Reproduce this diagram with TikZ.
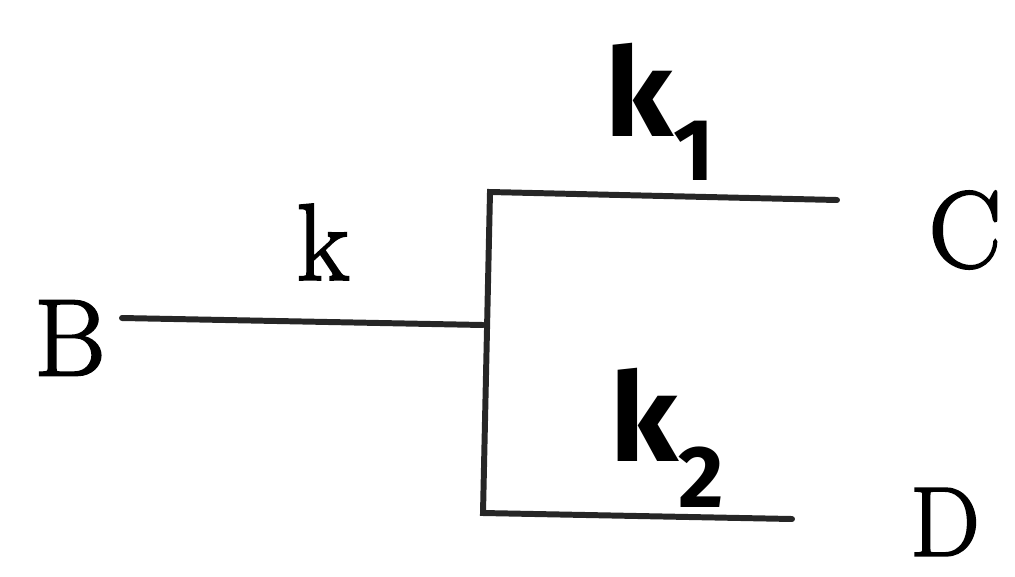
\documentclass[tikz,border=0pt]{standalone}
\usepackage{fontspec}
\newfontfamily\handfont{Fira Sans}
\newfontfamily\thickserif[FakeBold=2]{Latin Modern Roman}
\begin{document}
\begin{tikzpicture}[x=0.02cm,y=-0.02cm,
  wire/.style={line width=3.4pt,color=black!85,line cap=round},
  letter/.style={inner sep=0pt,font=\thickserif\fontsize{62}{62}\selectfont},
  hand/.style={inner sep=0pt,font=\handfont\bfseries\fontsize{70}{70}\selectfont}]
\useasboundingbox (0,0) rectangle (1015,576);
\node[letter] (B) at (70,338) {B};
\node[letter] (C) at (965,230) {C};
\node[letter,font=\thickserif\fontsize{56}{56}\selectfont] (D) at (945,522) {D};
\node[letter] (k) at (323,242) {k};
\node[hand] (k1) at (660,112) {k\textsubscript{\fontsize{50}{50}\selectfont 1}};
\node[hand] (k2) at (668,438) {k\textsubscript{\fontsize{50}{50}\selectfont 2}};
\coordinate (bs) at (122,318);
\coordinate (j) at (483,325);
\coordinate (tl) at (490,192);
\coordinate (tr) at (837,200);
\coordinate (bl) at (483,513);
\coordinate (br) at (792,519);
\draw[wire] (bs) -- (j);
\draw[wire] (tr) -- (tl) -- (bl) -- (br);
\end{tikzpicture}
\end{document}
